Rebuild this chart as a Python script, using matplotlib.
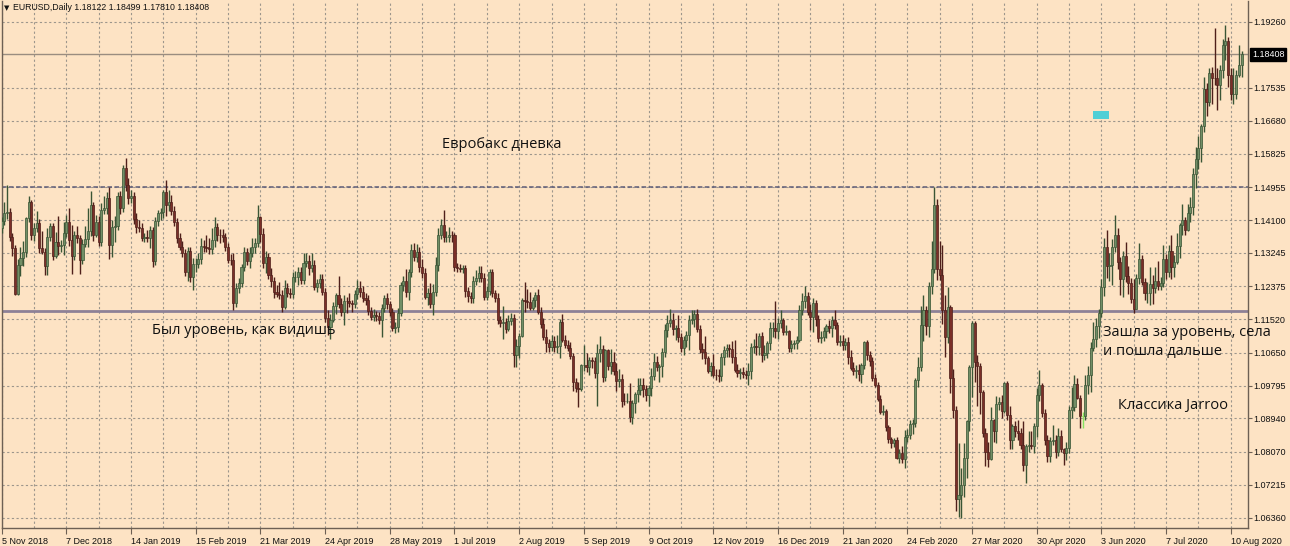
import numpy as np
import pandas as pd
import matplotlib
matplotlib.use("Agg")
import matplotlib.pyplot as plt
from matplotlib.patches import Rectangle
import matplotlib.transforms as mtransforms

# ---------------- data (prices in pips above 1.0000) ----------------
first_open = 1390
closes = [
    1407, 1428, 1430, 1365, 1336, 1218, 1293, 1311, 1327, 1416, 1456, 1370, 1388, 1403, 1337, 1326, 1290, 1367, 1394, 1316,
    1352, 1342, 1344, 1375, 1406, 1357, 1317, 1370, 1362, 1306, 1348, 1361, 1381, 1448, 1371, 1404, 1354, 1437, 1440, 1467,
    1345, 1392, 1395, 1473, 1441, 1544, 1502, 1467, 1473, 1413, 1393, 1389, 1364, 1365, 1364, 1383, 1304, 1407, 1428, 1432, 1482, 1448,
    1456, 1434, 1406, 1362, 1341, 1325, 1276, 1329, 1262, 1295, 1296, 1308, 1343, 1341, 1337, 1334, 1359, 1392, 1371, 1370,
    1365, 1339, 1307, 1306, 1194, 1234, 1246, 1287, 1326, 1304, 1325, 1340, 1351, 1417, 1374, 1298, 1313, 1266, 1251, 1223, 1217,
    1214, 1185, 1233, 1220, 1217, 1262, 1263, 1276, 1253, 1299, 1304, 1285, 1294, 1236, 1246, 1257, 1224, 1155, 1133, 1151, 1186, 1215,
    1192, 1171, 1200, 1199, 1193, 1191, 1217, 1234, 1224, 1206, 1202, 1173, 1157, 1163, 1160, 1151, 1180, 1206, 1191, 1170, 1130, 1131, 1168,
    1240, 1252, 1222, 1276, 1331, 1313, 1327, 1288, 1272, 1209, 1220, 1192, 1224, 1294, 1370, 1398, 1366, 1367, 1372, 1371,
    1287, 1286, 1282, 1284, 1225, 1212, 1206, 1252, 1259, 1271, 1260, 1211, 1226, 1276, 1219, 1208, 1150, 1141, 1146, 1127, 1148, 1155, 1059,
    1083, 1108, 1202, 1200, 1198, 1180, 1203, 1214, 1171, 1140, 1107, 1091, 1079, 1096, 1080, 1082, 1145, 1099, 1086, 1077, 1057, 989,
    972, 971, 1033, 1034, 1027, 1045, 1044, 1012, 1063, 1074, 1003, 1071, 1031, 1041, 1018, 991, 997, 940, 939, 940, 899,
    933, 958, 969, 980, 971, 956, 972, 1004, 1041, 1029, 1031, 1068, 1124, 1143, 1150, 1126, 1128, 1105, 1078, 1099, 1112, 1151, 1152,
    1166, 1126, 1075, 1066, 1050, 1018, 1031, 1008, 1007, 1004, 1053, 1073, 1078, 1075, 1054, 1021, 1011, 1015, 1010, 1006, 1017,
    1079, 1082, 1080, 1108, 1058, 1065, 1091, 1128, 1129, 1121, 1143, 1150, 1120, 1121, 1078, 1087, 1089, 1098, 1177, 1200, 1212,
    1171, 1159, 1194, 1152, 1104, 1106, 1121, 1135, 1129, 1150, 1136, 1092, 1095, 1084, 1093, 1053, 1025, 1018, 1021, 1009, 1033, 1093,
    1059, 1044, 1000, 981, 945, 912, 914, 872, 841, 830, 838, 792, 805, 788, 846, 851, 880, 882, 995, 1027,
    1137, 1175, 1135, 1238, 1283, 1448, 1283, 1267, 1177, 1105, 1185, 1000, 916, 685, 695, 721, 791, 887, 1029, 1141, 1041, 1030,
    963, 856, 806, 789, 891, 861, 932, 936, 914, 985, 904, 838, 874, 862, 857, 824, 774, 822, 824, 823, 874, 955,
    982, 909, 839, 797, 835, 839, 808, 849, 815, 804, 818, 915, 923, 983, 948, 900, 900, 980, 1007, 1077, 1101,
    1134, 1169, 1237, 1340, 1290, 1293, 1341, 1371, 1300, 1257, 1317, 1264, 1245, 1204, 1178, 1259, 1308, 1250, 1219, 1220, 1244, 1234,
    1251, 1239, 1245, 1309, 1274, 1330, 1287, 1300, 1343, 1398, 1410, 1383, 1428, 1443, 1530, 1569, 1596, 1655, 1751, 1717, 1791, 1779, 1778,
    1762, 1800, 1865, 1876, 1788, 1737, 1738, 1787, 1812.2, 1840.8,
]
wick_up = [
    12, 30, 70, 12, 10, 9, 15, 28, 28, 3, 16, 5, 13, 30, 10, 45, 10, 22, 8, 8,
    28, 68, 15, 29, 18, 36, 40, 12, 24, 8, 12, 33, 59, 38, 8, 18, 16, 17, 33, 16,
    30, 18, 25, 10, 12, 9, 26, 16, 14, 10, 16, 18, 13, 12, 20, 12, 10, 10, 8, 10, 7, 32,
    32, 20, 12, 10, 15, 14, 10, 10, 12, 15, 15, 16, 20, 15, 30, 25, 30, 27, 10, 16,
    16, 12, 12, 15, 18, 12, 12, 8, 13, 12, 15, 22, 12, 31, 4, 15, 16, 12, 20, 12, 18,
    33, 15, 22, 12, 12, 14, 15, 12, 12, 25, 20, 15, 30, 12, 10, 13, 12, 10, 20, 15, 12, 6,
    50, 15, 15, 10, 20, 10, 12, 20, 18, 15, 15, 12, 10, 16, 10, 10, 12, 10, 15, 8, 10, 15, 12,
    10, 12, 30, 6, 17, 20, 20, 13, 20, 12, 12, 25, 20, 20, 20, 14, 37, 15, 20, 10,
    4, 12, 10, 10, 10, 12, 10, 12, 22, 20, 20, 12, 12, 7, 6, 10, 12, 10, 41, 10, 16, 12, 10,
    17, 9, 4, 48, 30, 25, 8, 10, 16, 12, 15, 20, 10, 15, 12, 30, 8, 20, 12, 12, 15, 8,
    10, 18, 2, 50, 30, 10, 10, 10, 24, 35, 10, 4, 4, 34, 27, 20, 25, 12, 20, 20, 45,
    10, 5, 30, 20, 20, 10, 10, 20, 22, 16, 5, 10, 15, 19, 29, 18, 10, 35, 10, 10, 10, 12, 23,
    9, 12, 12, 14, 42, 6, 10, 30, 15, 16, 10, 10, 10, 10, 20, 43, 15, 10, 12, 10, 20,
    11, 18, 34, 8, 10, 20, 5, 17, 16, 71, 12, 25, 5, 15, 4, 10, 10, 10, 11, 19, 27,
    12, 20, 12, 8, 12, 16, 12, 5, 15, 10, 25, 10, 15, 15, 10, 14, 20, 15, 12, 15, 6, 3,
    4, 10, 10, 10, 7, 10, 15, 4, 6, 6, 6, 8, 10, 17, 17, 15, 11, 10, 5, 26,
    49, 39, 12, 10, 73, 47, 16, 73, 78, 38, 51, 5, 23, 11, 135, 45, 39, 3, 3, 6, 7, 19,
    7, 4, 12, 27, 34, 2, 20, 14, 20, 5, 7, 22, 6, 13, 27, 11, 63, 6, 37, 37, 9, 18,
    37, 5, 10, 12, 11, 37, 13, 20, 16, 3, 14, 11, 53, 25, 17, 7, 12, 28, 23, 16, 44,
    21, 10, 20, 22, 44, 30, 20, 51, 17, 13, 13, 36, 26, 13, 52, 11, 41, 12, 10, 30, 45, 23,
    37, 52, 17, 36, 12, 14, 41, 18, 32, 5, 42, 8, 23, 26, 16, 32, 32, 5, 30, 16, 14, 16, 130,
    27, 12, 15, 40, 9, 18, 68, 14, 54, 9.1,
]
wick_dn = [
    15, 10, 15, 10, 20, 2, 3, 28, 21, 12, 10, 12, 14, 8, 13, 5, 23, 24, 12, 11,
    6, 24, 14, 24, 8, 14, 48, 10, 12, 37, 10, 8, 20, 12, 15, 5, 11, 12, 12, 15,
    36, 30, 40, 10, 16, 10, 17, 15, 12, 13, 17, 10, 8, 10, 12, 28, 15, 10, 12, 18, 17, 28,
    15, 10, 12, 12, 10, 12, 12, 24, 12, 33, 20, 12, 12, 15, 10, 12, 12, 18, 15, 20,
    12, 10, 10, 12, 18, 10, 14, 10, 10, 12, 20, 12, 15, 10, 20, 12, 25, 10, 15, 15, 8,
    10, 15, 7, 10, 11, 10, 12, 22, 10, 10, 12, 17, 10, 8, 12, 12, 10, 10, 21, 32, 5, 20,
    10, 10, 35, 30, 10, 20, 10, 12, 14, 10, 12, 10, 8, 10, 12, 12, 45, 10, 12, 10, 8, 15, 12,
    8, 14, 12, 20, 14, 10, 12, 14, 12, 4, 20, 12, 28, 12, 16, 10, 12, 14, 15, 18,
    10, 10, 8, 10, 16, 14, 12, 12, 10, 10, 12, 10, 10, 12, 8, 12, 10, 10, 40, 10, 6, 10, 32,
    32, 32, 1, 30, 18, 5, 5, 20, 5, 10, 10, 25, 12, 10, 12, 15, 30, 6, 10, 8, 8, 24,
    8, 46, 5, 16, 12, 20, 20, 12, 85, 22, 14, 12, 12, 21, 12, 26, 15, 15, 10, 5, 14,
    20, 25, 20, 15, 20, 16, 30, 20, 10, 12, 40, 30, 13, 18, 10, 16, 28, 11, 12, 20, 20, 40, 12,
    20, 8, 10, 18, 14, 7, 14, 6, 14, 15, 12, 20, 20, 20, 15, 7, 10, 15, 10, 10, 25,
    20, 15, 20, 20, 18, 12, 15, 20, 22, 18, 20, 15, 10, 10, 12, 12, 12, 14, 5, 15, 20,
    7, 34, 40, 18, 10, 15, 10, 18, 12, 24, 10, 8, 10, 12, 13, 17, 6, 10, 20, 17, 22, 10,
    12, 14, 8, 6, 5, 6, 10, 10, 10, 12, 10, 4, 15, 10, 24, 14, 10, 26, 10, 20,
    10, 42, 23, 30, 20, 10, 28, 12, 37, 50, 15, 40, 21, 31, 48, 59, 31, 53, 25, 78, 51, 103,
    58, 11, 35, 20, 2, 29, 31, 17, 18, 7, 15, 23, 23, 17, 18, 10, 17, 47, 15, 8, 18, 29,
    15, 12, 13, 15, 16, 9, 17, 11, 9, 30, 19, 15, 19, 9, 3, 30, 30, 10, 23, 43, 7,
    20, 30, 12, 25, 32, 38, 53, 14, 17, 43, 46, 14, 27, 9, 10, 0, 15, 10, 16, 26, 30, 43,
    15, 11, 11, 8, 18, 13, 31, 25, 4, 33, 26, 12, 1, 24, 21, 37, 27, 36, 16, 37, 10, 68, 16,
    66, 39, 20, 39, 33, 15, 26, 14, 6, 31.2,
]

start_date = "2018-11-05"
end_date = "2020-08-14"
holidays = ["2018-12-25", "2019-01-01", "2019-12-25", "2020-01-01"]

tick_dates = ["2018-11-05", "2018-12-07", "2019-01-14", "2019-02-15", "2019-03-21",
              "2019-04-24", "2019-05-28", "2019-07-01", "2019-08-02", "2019-09-05",
              "2019-10-09", "2019-11-12", "2019-12-16", "2020-01-21", "2020-02-24",
              "2020-03-27", "2020-04-30", "2020-06-03", "2020-07-07", "2020-08-10"]
tick_labels = ["5 Nov 2018", "7 Dec 2018", "14 Jan 2019", "15 Feb 2019", "21 Mar 2019",
               "24 Apr 2019", "28 May 2019", "1 Jul 2019", "2 Aug 2019", "5 Sep 2019",
               "9 Oct 2019", "12 Nov 2019", "16 Dec 2019", "21 Jan 2020", "24 Feb 2020",
               "27 Mar 2020", "30 Apr 2020", "3 Jun 2020", "7 Jul 2020", "10 Aug 2020"]
price_ticks = [1.19260, 1.17535, 1.16680, 1.15825, 1.14955, 1.14100, 1.13245, 1.12375,
               1.11520, 1.10650, 1.09795, 1.08940, 1.08070, 1.07215, 1.06360]
last_price = 1.18408
dashed_level = 1.14955
solid_level = 1.1173
header_symbol = "EURUSD,Daily"
header_values = "1.18122 1.18499 1.17810 1.18408"
box_x = (404.8, 410.7)
box_y = (1.16718, 1.16942)

notes = [
    ("Евробакс дневка", 442, 144),
    ("Был уровень, как видишь", 152, 331),
    ("Зашла за уровень, села", 1103, 332),
    ("и пошла дальше", 1103, 352),
    ("Классика Jarroo", 1118, 405),
]

# ---------------- build OHLC ----------------
c = 1.0 + np.array(closes, dtype=float) / 10000.0
o = np.r_[1.0 + first_open / 10000.0, c[:-1]]
hi = np.maximum(o, c) + np.array(wick_up, dtype=float) / 10000.0
lo = np.minimum(o, c) - np.array(wick_dn, dtype=float) / 10000.0
n = len(c)
idx = np.arange(n)

days = pd.bdate_range(start_date, end_date)
days = days[~days.isin(pd.to_datetime(holidays))]
tick_pos = [int(days.get_loc(pd.Timestamp(d))) for d in tick_dates]

# ---------------- figure ----------------
W, H = 1290, 546
BG = "#FDE3C4"
fig = plt.figure(figsize=(W / 100, H / 100), dpi=100, facecolor=BG)
ax_l, ax_r, ax_t, ax_b = 1.5, 1247.5, 1.0, 528.0
ax = fig.add_axes([ax_l / W, 1 - ax_b / H, (ax_r - ax_l) / W, (ax_b - ax_t) / H])
ax.set_facecolor(BG)

px_per_bar = 2.6956
x0 = 1.6
ax.set_xlim((ax_l - x0) / px_per_bar, (ax_r - x0) / px_per_bar)
ax.set_ylim(1.141 - (ax_b - 220) * 0.00026, 1.141 + (220 - ax_t) * 0.00026)

# grid
grid_kw = dict(color="#9d968c", lw=0.8, ls=(0, (2, 2.2)))
ax.set_yticks(price_ticks)
ax.set_yticklabels([f"{p:.5f}" for p in price_ticks])
ax.set_xticks(tick_pos)
ax.set_xticklabels(tick_labels)
ax.set_xticks(np.arange(12, 462, 24), minor=True)
ax.grid(True, which="major", axis="both", **grid_kw)
ax.grid(True, which="minor", axis="x", **grid_kw)
ax.set_axisbelow(True)

# levels
ax.axhline(last_price, color="#9a8d80", lw=1.0, zorder=1)
ax.axhline(dashed_level, color="#5d5c78", lw=1.1, ls=(0, (3, 1.6)), zorder=1)
ax.axhline(solid_level, color="#8d8197", lw=2.0, zorder=1)

# candles (MT4 style: doji bars drawn in the line-chart colour)
bull = c > o
doji = np.isclose(c, o)
bull_fill, bull_edge = "#718f66", "#3a5535"
bear_fill, bear_edge = "#7b2f28", "#4f1f1a"
doji_col = "#86e35f"
wick_cols = np.where(doji, doji_col, np.where(bull, bull_edge, bear_edge))
fill_cols = np.where(doji, doji_col, np.where(bull, bull_fill, bear_fill))
ax.vlines(idx, lo, hi, colors=wick_cols, lw=1.0, zorder=3)
body_h = np.maximum(np.abs(c - o), 0.00004)
ax.bar(idx, body_h, bottom=np.minimum(o, c), width=0.78,
       color=fill_cols, edgecolor=wick_cols, linewidth=0.5, zorder=4)

# cyan box
ax.add_patch(Rectangle((box_x[0], box_y[0]), box_x[1] - box_x[0], box_y[1] - box_y[0],
                       facecolor="#4fcfd6", edgecolor="none", zorder=5))

# axes styling
lab_font = ["Liberation Sans", "DejaVu Sans"]
lab_size = 6.5
for s in ["left", "bottom", "right"]:
    ax.spines[s].set_color("#6d6054")
    ax.spines[s].set_linewidth(1.0)
ax.spines["top"].set_visible(False)
ax.yaxis.tick_right()
ax.tick_params(axis="y", which="major", direction="out", length=3, width=0.8,
               color="#6d6054", labelsize=lab_size, pad=1.5, labelcolor="#111111")
ax.tick_params(axis="x", which="major", direction="out", length=4, width=0.8,
               color="#6d6054", labelsize=lab_size, pad=2.5, labelcolor="#111111")
ax.tick_params(axis="x", which="minor", length=0)
for t in ax.get_xticklabels():
    t.set_ha("left")
    t.set_family(lab_font)
for t in ax.get_yticklabels():
    t.set_family(lab_font)

# current price tag
trans = mtransforms.blended_transform_factory(ax.transAxes, ax.transData)
ax.text(1.0 + 4.5 / (ax_r - ax_l), last_price, f"{last_price:.5f}", transform=trans,
        ha="left", va="center", fontsize=lab_size, family=lab_font, color="white",
        bbox=dict(boxstyle="square,pad=0.2", facecolor="black", edgecolor="black"),
        clip_on=False, zorder=10)

# header
fig.text(4 / W, 1 - 8 / H, "▼", fontsize=5.0, family="DejaVu Sans", va="center", ha="left", color="#111111")
fig.text(13 / W, 1 - 8 / H, header_symbol + " " + header_values, fontsize=6.3,
         family=lab_font, va="center", ha="left", color="#111111")

# notes
for txt, x, y in notes:
    fig.text(x / W, 1 - y / H, txt, fontsize=10.5, family=["Open Sans", "DejaVu Sans"],
             va="center", ha="left", color="#111111", zorder=20)

fig.savefig("out.png", dpi=100, facecolor=BG)
